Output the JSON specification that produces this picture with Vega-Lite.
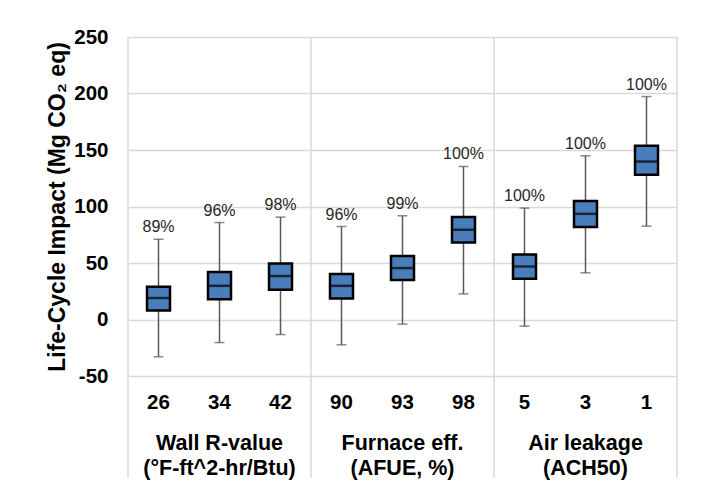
{
  "$schema": "https://vega.github.io/schema/vega-lite/v6.json",
  "width": 549,
  "height": 339,
  "autosize": {"type": "none"},
  "padding": {"left": 128, "top": 37, "right": 27, "bottom": 109},
  "background": "white",
  "config": {
    "font": "Liberation Sans",
    "view": {"stroke": null}
  },
  "datasets": {
    "boxes": [
      {"level": "26", "low": -33, "q1": 8, "median": 19, "q3": 29, "high": 71, "pct": "89%"},
      {"level": "34", "low": -20.4, "q1": 18, "median": 29.8, "q3": 42, "high": 85.8, "pct": "96%"},
      {"level": "42", "low": -13.3, "q1": 26.3, "median": 38.4, "q3": 49.6, "high": 90.6, "pct": "98%"},
      {"level": "90", "low": -22.4, "q1": 18.6, "median": 29.8, "q3": 40.2, "high": 82.3, "pct": "96%"},
      {"level": "93", "low": -4.1, "q1": 34.9, "median": 45.5, "q3": 56.1, "high": 91.8, "pct": "99%"},
      {"level": "98", "low": 22.7, "q1": 68.1, "median": 79.4, "q3": 90.6, "high": 135.4, "pct": "100%"},
      {"level": "5", "low": -5.9, "q1": 36, "median": 46.9, "q3": 57.5, "high": 98.6, "pct": "100%"},
      {"level": "3", "low": 41.3, "q1": 81.8, "median": 93.5, "q3": 104.8, "high": 144.9, "pct": "100%"},
      {"level": "1", "low": 82.6, "q1": 128, "median": 139.8, "q3": 153.7, "high": 197.3, "pct": "100%"}
    ],
    "groups": [
      {"level": "34", "line1": "Wall R-value", "line2": "(°F-ft^2-hr/Btu)"},
      {"level": "93", "line1": "Furnace eff.", "line2": "(AFUE, %)"},
      {"level": "3", "line1": "Air leakage", "line2": "(ACH50)"}
    ],
    "leftEdges": [{"level": "26"}, {"level": "90"}, {"level": "5"}],
    "rightEdges": [{"level": "1"}]
  },
  "encoding": {
    "x": {
      "field": "level",
      "type": "nominal",
      "scale": {"domain": ["26", "34", "42", "90", "93", "98", "5", "3", "1"], "paddingInner": 0, "paddingOuter": 0},
      "axis": {
        "title": null,
        "labelAngle": 0,
        "labelFont": "Liberation Sans",
        "labelFontSize": 20.5,
        "labelFontWeight": "bold",
        "labelColor": "black",
        "labelPadding": 16,
        "ticks": false,
        "domain": false,
        "grid": false
      }
    }
  },
  "layer": [
    {
      "data": {"name": "leftEdges"},
      "mark": {"type": "rule", "color": "#d9d9d9", "strokeWidth": 1.5},
      "encoding": {
        "x": {"field": "level", "type": "nominal", "bandPosition": 0},
        "y": {"datum": 250, "type": "quantitative"},
        "y2": {"datum": -140}
      }
    },
    {
      "data": {"name": "rightEdges"},
      "mark": {"type": "rule", "color": "#d9d9d9", "strokeWidth": 1.5},
      "encoding": {
        "x": {"field": "level", "type": "nominal", "bandPosition": 1},
        "y": {"datum": 250, "type": "quantitative"},
        "y2": {"datum": -140}
      }
    },
    {
      "data": {"name": "boxes"},
      "mark": {"type": "rule", "color": "#595959", "strokeWidth": 1.5},
      "encoding": {
        "y": {
          "field": "low",
          "type": "quantitative",
          "scale": {"domain": [-50, 250], "nice": false, "zero": false},
          "axis": {
            "values": [-50, 0, 50, 100, 150, 200, 250],
            "labelExpr": "replace(datum.label, '−', '-')",
            "title": "Life-Cycle Impact (Mg CO₂ eq)",
            "titleFont": "Liberation Sans",
            "titleFontSize": 23,
            "titleFontWeight": "bold",
            "titleColor": "black",
            "titlePadding": 4,
            "labelFont": "Liberation Sans",
            "labelFontSize": 20.5,
            "labelFontWeight": "bold",
            "labelColor": "black",
            "labelPadding": 20,
            "ticks": false,
            "domain": false,
            "grid": true,
            "gridColor": "#d9d9d9",
            "gridWidth": 1.5
          }
        },
        "y2": {"field": "high"}
      }
    },
    {
      "data": {"name": "boxes"},
      "mark": {"type": "tick", "color": "#595959", "thickness": 1.5, "size": 10, "orient": "horizontal"},
      "encoding": {"y": {"field": "low", "type": "quantitative"}}
    },
    {
      "data": {"name": "boxes"},
      "mark": {"type": "tick", "color": "#595959", "thickness": 1.5, "size": 10, "orient": "horizontal"},
      "encoding": {"y": {"field": "high", "type": "quantitative"}}
    },
    {
      "data": {"name": "boxes"},
      "mark": {"type": "bar", "size": 23, "fill": "#4a7ebb", "stroke": "black", "strokeWidth": 2.5},
      "encoding": {
        "y": {"field": "q1", "type": "quantitative"},
        "y2": {"field": "q3"}
      }
    },
    {
      "data": {"name": "boxes"},
      "mark": {"type": "tick", "color": "black", "thickness": 2.5, "size": 23, "orient": "horizontal"},
      "encoding": {"y": {"field": "median", "type": "quantitative"}}
    },
    {
      "data": {"name": "boxes"},
      "mark": {"type": "text", "fontSize": 16, "color": "#262626", "baseline": "alphabetic", "dy": -7},
      "encoding": {
        "y": {"field": "high", "type": "quantitative"},
        "text": {"field": "pct"}
      }
    },
    {
      "data": {"name": "groups"},
      "mark": {"type": "text", "fontSize": 21.5, "fontWeight": "bold", "color": "black", "baseline": "middle"},
      "encoding": {
        "y": {"datum": -110, "type": "quantitative"},
        "text": {"field": "line1"}
      }
    },
    {
      "data": {"name": "groups"},
      "mark": {"type": "text", "fontSize": 21.5, "fontWeight": "bold", "color": "black", "baseline": "middle"},
      "encoding": {
        "y": {"datum": -132, "type": "quantitative"},
        "text": {"field": "line2"}
      }
    }
  ]
}
